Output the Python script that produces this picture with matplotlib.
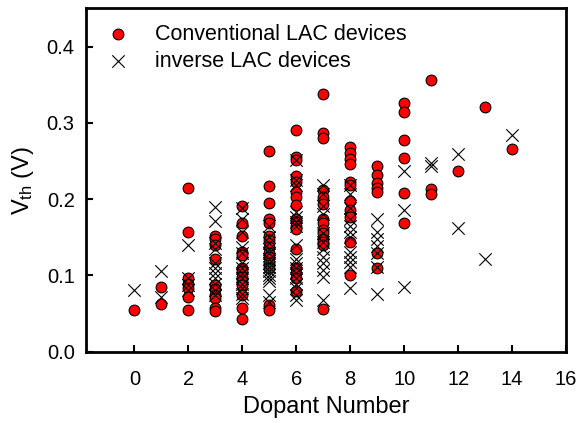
import matplotlib
matplotlib.use('Agg')
import matplotlib.pyplot as plt

plt.rcParams['font.family'] = ['Liberation Sans', 'DejaVu Sans']
plt.rcParams['mathtext.default'] = 'regular'

# Conventional LAC devices (red circles): dopant number -> Vth values
conv_x = [0,
          1, 1,
          2, 2, 2, 2, 2, 2, 2,
          3, 3, 3, 3, 3, 3, 3, 3, 3, 3,
          4, 4, 4, 4, 4, 4, 4, 4, 4, 4, 4, 4, 4,
          5, 5, 5, 5, 5, 5, 5, 5, 5, 5, 5, 5, 5, 5,
          6, 6, 6, 6, 6, 6, 6, 6, 6, 6, 6, 6, 6, 6, 6, 6, 6,
          7, 7, 7, 7, 7, 7, 7, 7, 7, 7, 7, 7, 7, 7,
          8, 8, 8, 8, 8, 8, 8, 8, 8, 8, 8,
          9, 9, 9, 9, 9, 9, 9,
          10, 10, 10, 10, 10, 10,
          11, 11, 11,
          12, 13, 14]
conv_v = [0.054,
          0.085, 0.062,
          0.215, 0.157, 0.096, 0.089, 0.083, 0.072, 0.054,
          0.152, 0.147, 0.140, 0.122, 0.087, 0.082, 0.074, 0.070, 0.057, 0.053,
          0.191, 0.169, 0.152, 0.131, 0.126, 0.109, 0.105, 0.098, 0.092, 0.087, 0.074, 0.057, 0.043,
          0.263, 0.217, 0.195, 0.174, 0.168, 0.152, 0.146, 0.137, 0.129, 0.124, 0.116, 0.109, 0.061, 0.055,
          0.290, 0.255, 0.251, 0.230, 0.222, 0.209, 0.203, 0.192, 0.174, 0.170, 0.164, 0.161, 0.135, 0.109, 0.103, 0.096, 0.079,
          0.338, 0.286, 0.280, 0.212, 0.203, 0.193, 0.174, 0.168, 0.159, 0.155, 0.148, 0.144, 0.140, 0.056,
          0.268, 0.260, 0.252, 0.246, 0.222, 0.218, 0.198, 0.185, 0.177, 0.143, 0.101,
          0.243, 0.232, 0.221, 0.214, 0.209, 0.129, 0.110,
          0.326, 0.314, 0.277, 0.254, 0.208, 0.168,
          0.356, 0.213, 0.206,
          0.237, 0.321, 0.266]

# inverse LAC devices (black crosses)
inv_x = [0,
         1, 1,
         2, 2, 2, 2,
         3, 3, 3, 3, 3, 3, 3, 3, 3, 3, 3,
         4, 4, 4, 4, 4, 4, 4, 4, 4, 4, 4, 4, 4,
         5, 5, 5, 5, 5, 5, 5, 5, 5, 5, 5, 5, 5, 5,
         6, 6, 6, 6, 6, 6, 6, 6, 6, 6, 6, 6, 6, 6, 6, 6, 6,
         7, 7, 7, 7, 7, 7, 7, 7, 7, 7, 7, 7,
         8, 8, 8, 8, 8, 8, 8, 8, 8, 8, 8, 8,
         9, 9, 9, 9, 9, 9, 9,
         10, 10, 10,
         11, 11,
         12, 12, 13, 14]
inv_v = [0.081,
         0.106, 0.072,
         0.140, 0.096, 0.087, 0.081,
         0.190, 0.171, 0.142, 0.135, 0.116, 0.109, 0.103, 0.096, 0.089, 0.081, 0.074,
         0.188, 0.174, 0.157, 0.137, 0.129, 0.116, 0.109, 0.103, 0.096, 0.089, 0.083, 0.076, 0.070,
         0.164, 0.150, 0.142, 0.135, 0.129, 0.122, 0.116, 0.111, 0.105, 0.100, 0.096, 0.092, 0.074, 0.065,
         0.251, 0.225, 0.218, 0.183, 0.177, 0.170, 0.164, 0.140, 0.122, 0.116, 0.109, 0.103, 0.096, 0.089, 0.083, 0.074, 0.068,
         0.218, 0.207, 0.191, 0.181, 0.155, 0.144, 0.135, 0.124, 0.116, 0.107, 0.098, 0.068,
         0.218, 0.207, 0.188, 0.174, 0.164, 0.157, 0.150, 0.131, 0.124, 0.118, 0.111, 0.083,
         0.174, 0.157, 0.148, 0.138, 0.129, 0.111, 0.076,
         0.237, 0.186, 0.084,
         0.247, 0.244,
         0.259, 0.162, 0.121, 0.284]

fig = plt.figure(figsize=(5.8, 4.23), dpi=100)
ax = fig.add_axes([0.148, 0.169, 0.828, 0.811])

ax.scatter(conv_x, conv_v, s=60, c='#ff0000', edgecolors='black', linewidths=0.8,
           label='Conventional LAC devices', zorder=2)
ax.scatter(inv_x, inv_v, s=80, marker='x', c='black', linewidths=0.8,
           label='inverse LAC devices', zorder=3)

ax.set_xlim(-1.8, 16)
ax.set_ylim(0, 0.45)
ax.set_xticks(range(0, 17, 2))
ax.set_yticks([0.0, 0.1, 0.2, 0.3, 0.4])
ax.set_yticklabels(['0.0', '0.1', '0.2', '0.3', '0.4'])
ax.tick_params(direction='in', length=5, width=1.5, labelsize=14.5, pad=8)
ax.tick_params(axis='x', pad=13)
for sp in ax.spines.values():
    sp.set_linewidth(2)

ax.set_xlabel('Dopant Number', fontsize=17, labelpad=5)
ax.set_ylabel('V$_{th}$ (V)', fontsize=17, labelpad=8)

ax.legend(loc='upper left', frameon=False, fontsize=15.5, handletextpad=0.7,
          borderaxespad=0.1, labelspacing=0.3, scatterpoints=1,
          bbox_to_anchor=(0.0, 0.987))

fig.savefig('out.png', dpi=100)
